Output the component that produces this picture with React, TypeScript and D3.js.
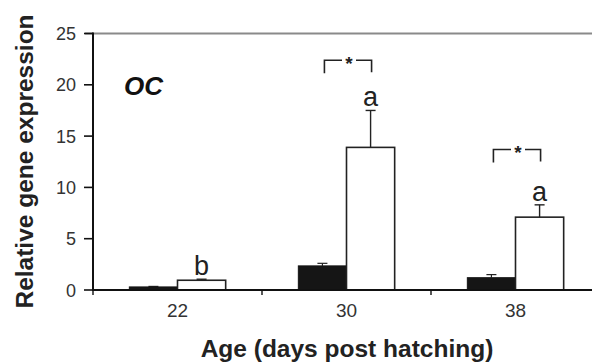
import React from "react";
import * as d3 from "d3";

const categories = ["22", "30", "38"];
const controlValues = [0.3, 2.35, 1.2];
const controlErrors = [0.05, 0.25, 0.3];
const treatedValues = [0.95, 13.9, 7.1];
const treatedErrors = [0.1, 3.6, 1.2];
const letters = ["b", "a", "a"];
const bracketLevels: (number | null)[] = [null, 22.4, 13.7];
const yTicks = [0, 5, 10, 15, 20, 25];

const W = 592;
const H = 363;
const FONT = "'Liberation Sans', Arial, Helvetica, sans-serif";

export default function App() {
  const x0 = 93;
  const step = 169;
  const x = d3
    .scaleBand<string>()
    .domain(categories)
    .range([x0, x0 + step * categories.length])
    .paddingInner(0.43)
    .paddingOuter(0.215);
  const sub = d3
    .scaleBand<string>()
    .domain(["control", "treated"])
    .range([0, x.bandwidth()]);
  const y = d3.scaleLinear().domain([0, 25]).range([290, 33.5]);

  const bw = sub.bandwidth();
  const capHalf = 5;

  return (
    <svg
      width={W}
      height={H}
      style={{ position: "absolute", left: 0, top: 0, background: "#fff" }}
      fontFamily={FONT}
    >
      <rect width={W} height={H} fill="#fff" />
      {/* top frame line */}
      <line x1={85} x2={W} y1={y(25)} y2={y(25)} stroke="#8a8a8a" strokeWidth={2.2} />

      {/* bars */}
      {categories.map((c, i) => {
        const gx = x(c)!;
        const cx = gx + sub("control")!;
        const tx = gx + sub("treated")!;
        const cTop = y(controlValues[i]);
        const tTop = y(treatedValues[i]);
        const cErr = y(controlValues[i] + controlErrors[i]);
        const tErr = y(treatedValues[i] + treatedErrors[i]);
        const lvl = bracketLevels[i];
        return (
          <g key={c}>
            <line x1={cx + bw / 2} x2={cx + bw / 2} y1={cTop} y2={cErr} stroke="#222" strokeWidth={1.2} />
            <line x1={cx + bw / 2 - capHalf} x2={cx + bw / 2 + capHalf} y1={cErr} y2={cErr} stroke="#222" strokeWidth={1.2} />
            <rect x={cx} y={cTop} width={bw} height={y(0) - cTop} fill="#151515" stroke="#151515" strokeWidth={1} />
            <line x1={tx + bw / 2} x2={tx + bw / 2} y1={tTop} y2={tErr} stroke="#222" strokeWidth={1.4} />
            <line x1={tx + bw / 2 - capHalf} x2={tx + bw / 2 + capHalf} y1={tErr} y2={tErr} stroke="#222" strokeWidth={1.4} />
            <rect x={tx} y={tTop} width={bw} height={y(0) - tTop} fill="#fff" stroke="#222" strokeWidth={1.6} />
            <text
              x={tx + bw / 2}
              y={tErr - 4}
              textAnchor="middle"
              fontSize={27}
              fill="#222"
            >
              {letters[i]}
            </text>
            {lvl !== null && (() => {
              const bx1 = cx + bw / 2 + 2;
              const bx2 = tx + bw / 2 + 1;
              const mid = (bx1 + bx2) / 2;
              const by = y(lvl);
              return (
                <g stroke="#222" strokeWidth={1.6} fill="none">
                  <path d={`M${bx1},${by + 13} V${by} H${mid - 6}`} />
                  <path d={`M${mid + 8},${by} H${bx2} V${by + 12}`} />
                  <text
                    x={mid + 1}
                    y={by + 10}
                    textAnchor="middle"
                    fontSize={19}
                    fontWeight="bold"
                    stroke="none"
                    fill="#222"
                  >
                    *
                  </text>
                </g>
              );
            })()}
          </g>
        );
      })}

      {/* y axis */}
      <line x1={93} x2={93} y1={y(25) - 1} y2={y(0)} stroke="#111" strokeWidth={2} />
      {yTicks.map((t) => (
        <g key={t}>
          <line x1={84} x2={93} y1={y(t)} y2={y(t)} stroke="#111" strokeWidth={1.6} />
          <text x={76} y={y(t) + 6.5} textAnchor="end" fontSize={18} fill="#333">
            {t}
          </text>
        </g>
      ))}

      {/* x axis */}
      <line x1={92} x2={W} y1={y(0)} y2={y(0)} stroke="#111" strokeWidth={2} />
      {categories.map((c, i) => {
        const bx = x0 + step * i;
        return (
          <line key={"t" + c} x1={bx} x2={bx} y1={y(0)} y2={y(0) + 5} stroke="#111" strokeWidth={1.4} />
        );
      })}
      {categories.map((c) => (
        <text
          key={"l" + c}
          x={x(c)! + x.bandwidth() / 2}
          y={317}
          textAnchor="middle"
          fontSize={19}
          fill="#333"
        >
          {c}
        </text>
      ))}

      {/* OC label */}
      <text x={124} y={95} fontSize={26} fontWeight="bold" fontStyle="italic" fill="#111">
        OC
      </text>

      {/* axis titles */}
      <text x={347} y={357} textAnchor="middle" fontSize={24.5} fontWeight="bold" fill="#222">
        Age (days post hatching)
      </text>
      <text
        transform={`translate(33,161.5) rotate(-90)`}
        textAnchor="middle"
        fontSize={24.5}
        fontWeight="bold"
        fill="#222"
      >
        Relative gene expression
      </text>
    </svg>
  );
}
